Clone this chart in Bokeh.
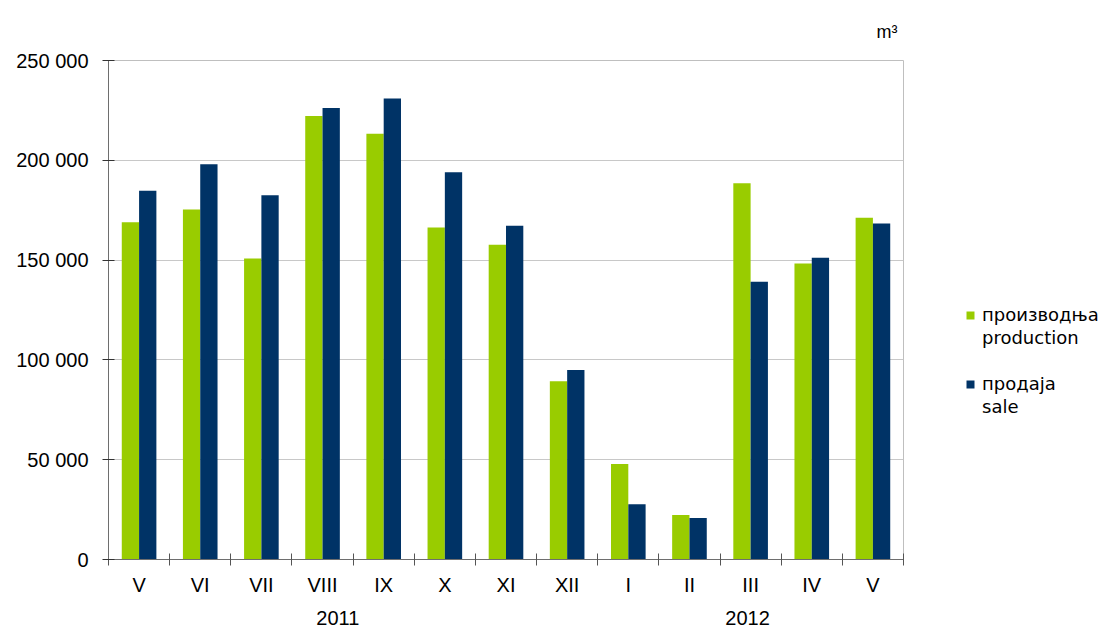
import numpy as np
from bokeh.plotting import figure
from bokeh.models import (ColumnDataSource, Range1d, FixedTicker, Legend, LegendItem, LinearAxis)
from bokeh.embed import file_html
from bokeh.resources import INLINE

# ---- data ----
months = ["V", "VI", "VII", "VIII", "IX", "X", "XI", "XII", "I", "II", "III", "IV", "V"]
years = ["2011", "2012"]
year_label_pos = [3.75, 10.45]
production = [169000, 175300, 150800, 222200, 213300, 166300, 157700, 89300, 47800, 22300, 188500, 148300, 171200]
sale = [184700, 198000, 182500, 226200, 231000, 194000, 167200, 95000, 27700, 20800, 139200, 151200, 168300]
y_ticks = [0, 50000, 100000, 150000, 200000, 250000]
y_tick_labels = ["0", "50 000", "100 000", "150 000", "200 000", "250 000"]
names_sr = ["производња", "продаја"]
names_en = ["production", "sale"]
unit = "m³"

GREEN = "#99CC00"
BLUE = "#003366"
FONT = "Liberation Sans"
LFONT = "DejaVu Sans"

n = len(months)
centers = np.arange(n) + 0.5
bw = 0.283
src = ColumnDataSource(dict(xg=centers - bw / 2, xb=centers + bw / 2, prod=production, sale=sale))

p = figure(frame_width=795, frame_height=499, width=1108, height=630,
           x_range=Range1d(0, n), y_range=Range1d(0, 250000),
           output_backend="svg", toolbar_location=None,
           min_border_left=108, min_border_top=60, min_border_right=205, min_border_bottom=71)
p.background_fill_color = "white"
p.border_fill_color = "white"
p.outline_line_color = "#BFBFBF"
p.outline_line_width = 1

rg = p.vbar(x="xg", top="prod", width=bw, bottom=0, source=src, fill_color=GREEN, line_color=None)
rb = p.vbar(x="xb", top="sale", width=bw, bottom=0, source=src, fill_color=BLUE, line_color=None)
# invisible renderer used for the English legend lines and the spacer
rnone = p.scatter(x=[], y=[], size=1, fill_alpha=0, line_alpha=0)

# title used as unit label
p.title.text = unit
p.title.align = "right"
p.title.offset = 6
p.title.standoff = 38
p.title.text_font = FONT
p.title.text_font_size = "18px"
p.title.text_font_style = "normal"
p.title.text_color = "black"

# grid
p.xgrid.visible = False
p.ygrid.grid_line_color = "#C8C8C8"
p.ygrid.grid_line_width = 1
p.ygrid.ticker = FixedTicker(ticks=y_ticks)

# y axis
ya = p.yaxis[0]
ya.ticker = FixedTicker(ticks=y_ticks)
ya.major_label_overrides = {t: l for t, l in zip(y_ticks, y_tick_labels)}
ya.axis_line_color = "#6E6E6E"
ya.major_tick_line_color = "#333333"
ya.major_tick_in = 6
ya.major_tick_out = 6
ya.minor_tick_line_color = None
ya.major_label_standoff = 14
ya.major_label_text_font = FONT
ya.major_label_text_font_size = "20px"
ya.major_label_text_color = "black"

# x axis (months)
xa = p.xaxis[0]
xa.ticker = FixedTicker(ticks=list(centers), minor_ticks=list(range(n + 1)))
xa.major_label_overrides = {float(c): m for c, m in zip(centers, months)}
xa.axis_line_color = "#6E6E6E"
xa.major_tick_in = 0
xa.major_tick_out = 0
xa.major_tick_line_color = None
xa.minor_tick_line_color = "#555555"
xa.minor_tick_in = 6
xa.minor_tick_out = 6
xa.major_label_standoff = 8
xa.major_label_text_font = FONT
xa.major_label_text_font_size = "20px"
xa.major_label_text_color = "black"

# second x axis (years)
xa2 = LinearAxis(ticker=FixedTicker(ticks=year_label_pos),
                 major_label_overrides={float(v): y for v, y in zip(year_label_pos, years)})
xa2.axis_line_color = None
xa2.major_tick_line_color = None
xa2.minor_tick_line_color = None
xa2.major_tick_in = 0
xa2.major_tick_out = 0
xa2.major_label_standoff = 12
xa2.major_label_text_font = FONT
xa2.major_label_text_font_size = "20px"
xa2.major_label_text_color = "black"
p.add_layout(xa2, "below")

# legend: Serbian name with swatch, English name below, blank spacer between series
legend = Legend(items=[LegendItem(label=names_sr[0], renderers=[rg]),
                       LegendItem(label=names_en[0], renderers=[rnone]),
                       LegendItem(label=" ", renderers=[rnone]),
                       LegendItem(label=names_sr[1], renderers=[rb]),
                       LegendItem(label=names_en[1], renderers=[rnone])],
                location=(62, 142), orientation="vertical",
                glyph_width=10, glyph_height=10, label_standoff=7, label_height=21,
                label_text_font=LFONT, label_text_font_size="18px", label_text_color="black",
                spacing=2, padding=0, margin=0,
                border_line_color=None, background_fill_alpha=0)
p.add_layout(legend, "right")

open("out.html", "w").write(file_html(p, INLINE))
